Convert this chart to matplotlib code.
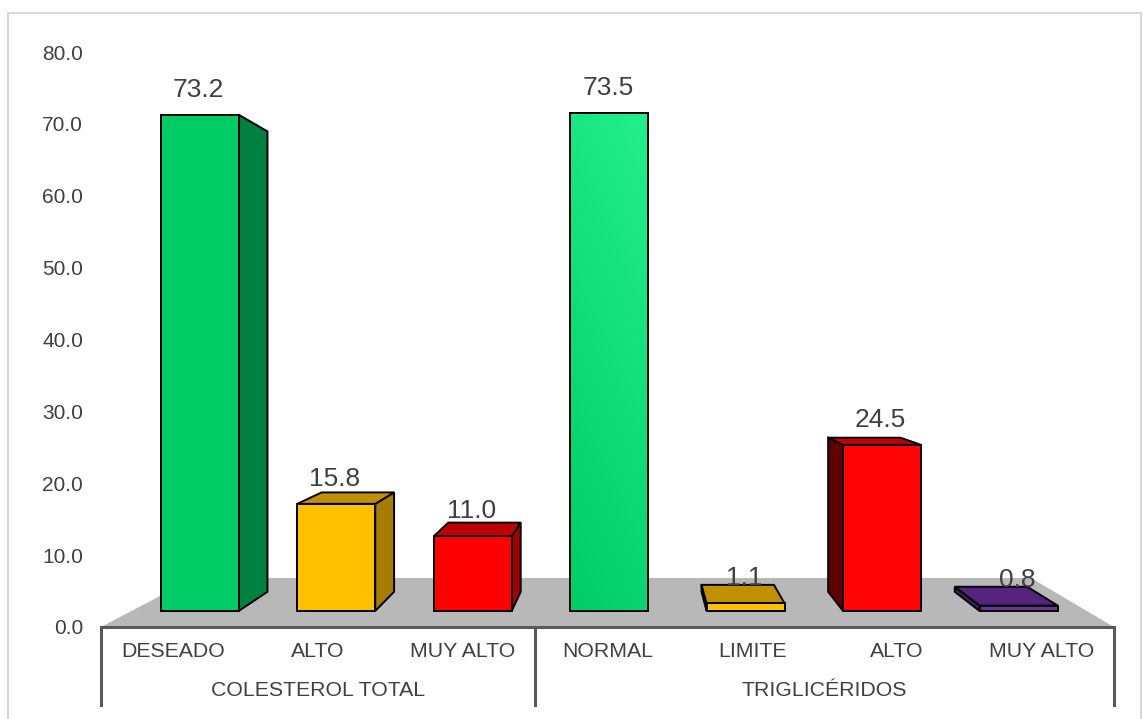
import matplotlib
matplotlib.use("Agg")
import matplotlib.pyplot as plt
import numpy as np
from matplotlib.patches import Polygon, Rectangle

plt.rcParams["font.family"] = ["Liberation Sans", "DejaVu Sans"]

# data
groups = ["COLESTEROL TOTAL", "TRIGLICÉRIDOS"]
group_sizes = [3, 4]
categories = ["DESEADO", "ALTO", "MUY ALTO", "NORMAL", "LIMITE", "ALTO", "MUY ALTO"]
values = [73.2, 15.8, 11.0, 73.5, 1.1, 24.5, 0.8]
value_labels = ["73.2", "15.8", "11.0", "73.5", "1.1", "24.5", "0.8"]

front_colors = ["#00CC66", "#FFC000", "#FF0000", None, "#FFC000", "#FF0505", "#7030A0"]
side_colors = ["#00813F", "#A67D00", "#A50000", "#00A050", "#A67D00", "#600000", "#4A1A6E"]
top_colors = ["#00A852", "#C09000", "#C00000", "#10C070", "#C09000", "#C00000", "#56237F"]

TEXT = "#404040"

# pseudo-3d geometry (data units)
VP = (3.70, 39.2)      # vanishing point
T_FRONT, T_BACK = 0.057, 0.125
T_FLOOR = 0.174
HALF_W = 0.286


def proj(x, v, t):
    return (x + t * (VP[0] - x), v + t * (VP[1] - v))


def face(ax, pts, color, z):
    ax.add_patch(Polygon(pts, closed=True, facecolor=color, edgecolor="black",
                         linewidth=1.4, joinstyle="miter", zorder=z))


def gradient_face(ax, pts, c_bottom, c_top, z):
    poly = Polygon(pts, closed=True, facecolor="none", edgecolor="black",
                   linewidth=1.4, zorder=z + 0.1)
    ax.add_patch(poly)
    xs = [p[0] for p in pts]
    ys = [p[1] for p in pts]
    c0 = np.array(matplotlib.colors.to_rgb(c_bottom))
    c1 = np.array(matplotlib.colors.to_rgb(c_top))
    gy, gx = np.mgrid[0:1:200j, 0:1:50j]
    f = np.clip(0.75 * gy + 0.25 * gx, 0, 1)[..., None]
    img = c0 * (1 - f) + c1 * f
    im = ax.imshow(img, origin="lower", extent=(min(xs), max(xs), min(ys), max(ys)),
                   aspect="auto", zorder=z, interpolation="bilinear")
    im.set_clip_path(poly)


fig = plt.figure(figsize=(11.48, 7.19), dpi=100)
W, H = 1148, 719
ax = fig.add_axes([101 / W, (H - 627) / H, 1013 / W, 575 / H])
n = len(categories)
ax.set_xlim(0, n)
ax.set_ylim(0, 80)
for s in ax.spines.values():
    s.set_visible(False)
ax.set_xticks([])
ax.set_yticks(np.arange(0, 81, 10))
ax.set_yticklabels([f"{v:.1f}" for v in np.arange(0, 81, 10)], fontsize=15, color=TEXT)
ax.tick_params(axis="y", length=0, pad=13)

# floor
floor = [proj(0, 0, 0), proj(n, 0, 0), proj(n, 0, T_FLOOR), proj(0, 0, T_FLOOR)]
ax.add_patch(Polygon(floor, closed=True, facecolor="#B8B8B8", edgecolor="none", zorder=1))

for i, v in enumerate(values):
    c = i + 0.5
    L, R = c - HALF_W, c + HALF_W
    z = 2 + i
    if R < VP[0]:
        face(ax, [proj(R, 0, T_FRONT), proj(R, 0, T_BACK), proj(R, v, T_BACK), proj(R, v, T_FRONT)],
             side_colors[i], z)
    elif L > VP[0]:
        face(ax, [proj(L, 0, T_FRONT), proj(L, 0, T_BACK), proj(L, v, T_BACK), proj(L, v, T_FRONT)],
             side_colors[i], z)
    if v < VP[1]:
        face(ax, [proj(L, v, T_FRONT), proj(R, v, T_FRONT), proj(R, v, T_BACK), proj(L, v, T_BACK)],
             top_colors[i], z)
    front = [proj(L, 0, T_FRONT), proj(R, 0, T_FRONT), proj(R, v, T_FRONT), proj(L, v, T_FRONT)]
    if front_colors[i] is None:
        gradient_face(ax, front, "#00CC66", "#22F08C", z + 0.5)
    else:
        face(ax, front, front_colors[i], z + 0.5)
    ax.annotate(value_labels[i], xy=proj(c, v, T_FRONT), xytext=(-1, 9.5), textcoords="offset points",
                ha="center", va="bottom", fontsize=19, color=TEXT, zorder=20)

# category axis
ax.plot([0, n], [0, 0], color="#595959", lw=2.2, clip_on=False, zorder=15, solid_capstyle="butt")
edges = np.concatenate([[0], np.cumsum(group_sizes)])
for e in edges:
    ax.plot([e, e], [0, -10.9], color="#595959", lw=2.2, clip_on=False, zorder=15)
for i, cat in enumerate(categories):
    ax.text(i + 0.5, -3.35, cat, ha="center", va="center", fontsize=15.3, color=TEXT, clip_on=False)
for g, name in enumerate(groups):
    ax.text((edges[g] + edges[g + 1]) / 2, -8.9, name, ha="center", va="center",
            fontsize=15.3, color=TEXT, clip_on=False)

# chart border
fig.add_artist(Rectangle((8 / W, -0.05), 1133 / W, 1.05 - 13 / H, transform=fig.transFigure,
                         fill=False, edgecolor="#D0D0D0", linewidth=1.2))

fig.savefig("out.png", dpi=100)
